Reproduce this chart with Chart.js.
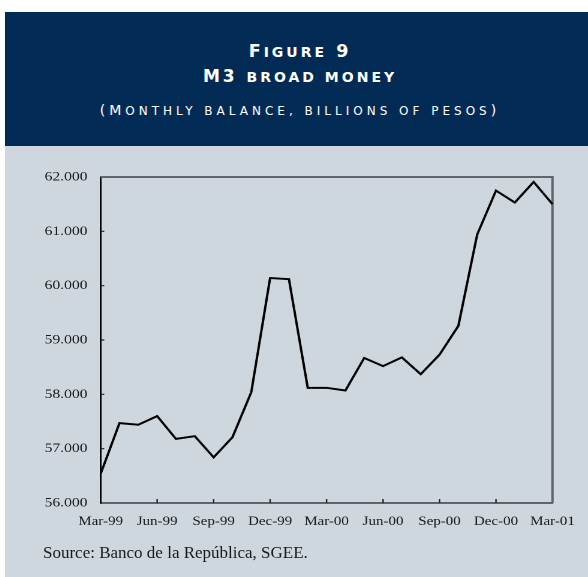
<!DOCTYPE html>
<html>
<head>
<meta charset="utf-8">
<script src="https://cdn.jsdelivr.net/npm/chart.js@4.4.1/dist/chart.umd.min.js"></script>
<style>
    body { margin: 0; background: #ffffff; width: 588px; height: 577px; position: relative; overflow: hidden; }
    .header { position: absolute; left: 5px; top: 12px; width: 583px; height: 134px; background: #012b55; }
    .panel { position: absolute; left: 5px; top: 146px; width: 583px; height: 431px; background: #ced6de; }
    .title { position: absolute; left: 5px; width: 590px; text-align: center; color: #ffffff;
             font-family: "DejaVu Sans", sans-serif; font-weight: bold; white-space: nowrap; }
    .t1 { top: 43px; font-size: 17.5px; line-height: 17px; letter-spacing: 3px; }
    .t2 { top: 68px; font-size: 17px; line-height: 17px; letter-spacing: 3px; }
    .t3 { top: 103px; font-size: 14px; line-height: 14px; letter-spacing: 4px; font-weight: normal; }
    .t1 small, .t2 small { font-size: 14px; }
    .t3 small { font-size: 12px; }
    #chart { position: absolute; left: 5px; top: 146px; width: 583px; height: 431px; }
    .source { position: absolute; left: 43px; top: 544px; font-family: "Liberation Serif", serif;
              font-size: 17px; line-height: 17px; color: #1a1a1a; white-space: nowrap; }
</style>
</head>
<body>
<div class="header"></div>
<div class="panel"></div>
<div class="title t1">F<small>IGURE</small> 9</div>
<div class="title t2">M3 <small>BROAD MONEY</small></div>
<div class="title t3">(M<small>ONTHLY BALANCE, BILLIONS OF PESOS</small>)</div>
<canvas id="chart" width="486" height="431" style="width:583px;height:431px"></canvas>
<div class="source">Source: Banco de la República, SGEE.</div>

<script>
// monthly M3 balance, billions of pesos
const months = ['Mar-99', 'Apr-99', 'May-99', 'Jun-99', 'Jul-99', 'Aug-99', 'Sep-99', 'Oct-99', 'Nov-99', 'Dec-99',
    'Jan-00', 'Feb-00', 'Mar-00', 'Apr-00', 'May-00', 'Jun-00', 'Jul-00', 'Aug-00', 'Sep-00', 'Oct-00', 'Nov-00', 'Dec-00',
    'Jan-01', 'Feb-01', 'Mar-01'];
const m3_values = [56540, 57470, 57440, 57600, 57180, 57230, 56840, 57210, 58040, 60140,
    60120, 58120, 58120, 58070, 58670, 58520, 58680, 58370, 58730, 59260, 60940, 61750,
    61530, 61910, 61500];
const y_min = 56000;
const y_max = 62000;
const y_step = 1000;

// frame on top/right and the small inside tick marks
const frame_plugin = {
    id: 'frame',
    beforeDatasetsDraw(chart) {
        const ctx = chart.ctx;
        const area = chart.chartArea;
        const x = chart.scales.x;
        const y = chart.scales.y;
        ctx.save();
        ctx.strokeStyle = '#60656c';
        ctx.lineWidth = 2;
        ctx.beginPath();
        ctx.moveTo(area.left, area.top);
        ctx.lineTo(area.right, area.top);
        ctx.lineTo(area.right, area.bottom);
        ctx.stroke();

        ctx.strokeStyle = '#222222';
        ctx.lineWidth = 1.2;
        ctx.beginPath();
        for (let v = y_min + y_step; v < y_max; v += y_step) {
            const py = y.getPixelForValue(v);
            ctx.moveTo(area.left, py);
            ctx.lineTo(area.left + 3, py);
        }
        for (let i = 3; i < months.length - 1; i += 3) {
            const px = x.getPixelForValue(i);
            ctx.moveTo(px, area.bottom);
            ctx.lineTo(px, area.bottom - 4);
        }
        ctx.stroke();
        ctx.restore();
    }
};

function draw_chart() {
    const canvas_chart = document.getElementById('chart');

    new Chart(canvas_chart, {
        type: 'line',
        data: {
            labels: months,
            datasets: [{
                data: m3_values,
                borderColor: '#000000',
                borderWidth: 2,
                pointRadius: 0,
                tension: 0,
                fill: false
            }]
        },
        options: {
            responsive: false,
            animation: false,
            devicePixelRatio: 2,
            layout: { padding: { left: 0, right: 24, top: 31, bottom: 0 } },
            plugins: {
                legend: { display: false },
                tooltip: { enabled: false }
            },
            scales: {
                x: {
                    type: 'category',
                    offset: false,
                    grid: { display: false, drawTicks: false },
                    border: { display: true, color: '#60656c', width: 2 },
                    ticks: {
                        autoSkip: false,
                        maxRotation: 0,
                        padding: 11,
                        color: '#1a1a1a',
                        font: { family: 'Liberation Serif', size: 12.5 },
                        callback: (val, i) => i % 3 === 0 ? months[i] : ''
                    },
                    afterFit: (scale) => { scale.height = 74; }
                },
                y: {
                    min: y_min,
                    max: y_max,
                    grid: { display: false, drawTicks: false },
                    border: { display: true, color: '#000000', width: 1.5 },
                    ticks: {
                        stepSize: y_step,
                        padding: 11,
                        color: '#1a1a1a',
                        font: { family: 'Liberation Serif', size: 13 },
                        callback: (v) => (v / 1000).toFixed(3)
                    },
                    afterFit: (scale) => { scale.width = 79.75; }
                }
            }
        },
        plugins: [frame_plugin]
    });
}

draw_chart();
</script>
</body>
</html>
